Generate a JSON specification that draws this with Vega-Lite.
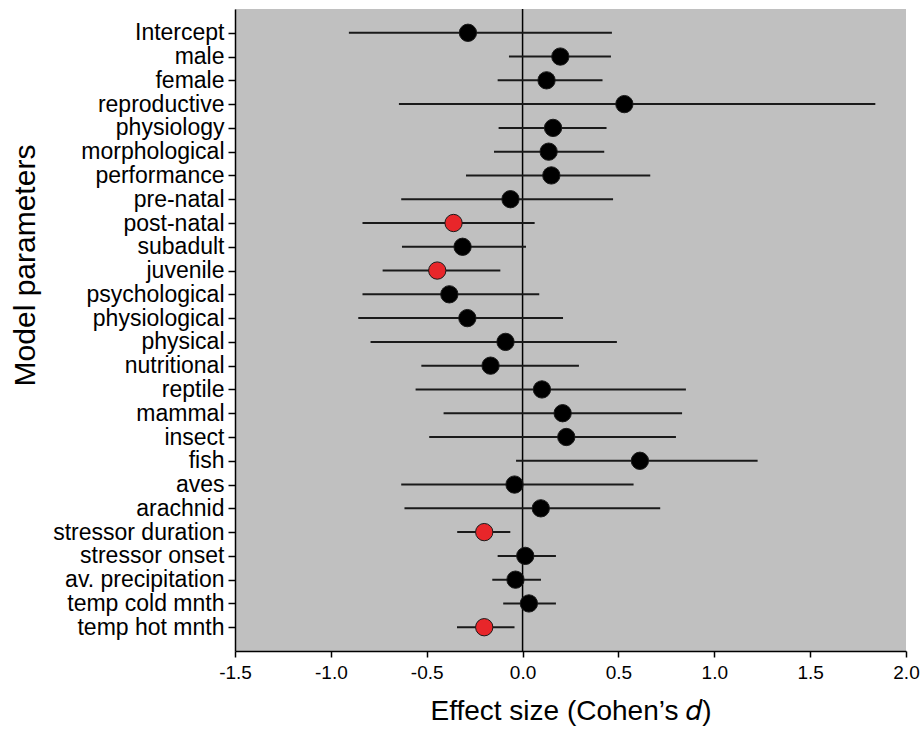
{
  "$schema": "https://vega.github.io/schema/vega-lite/v6.json",
  "autosize": {"type": "none"},
  "width": 671,
  "height": 642,
  "padding": {"left": 235, "top": 9, "right": 14, "bottom": 86},
  "background": "white",
  "config": {
    "view": {"stroke": null, "fill": "#c0c0c0"},
    "font": "Liberation Sans",
    "axis": {"grid": false, "domainColor": "black", "tickColor": "black", "labelColor": "black", "titleColor": "black", "domainWidth": 1.5, "tickWidth": 1.5, "labelFont": "Liberation Sans", "titleFont": "Liberation Sans", "titleFontWeight": "normal"}
  },
  "data": {
    "values": [
      {"param": "Intercept", "d": -0.285, "lo": -0.906, "hi": 0.466, "group": "ns"},
      {"param": "male", "d": 0.197, "lo": -0.071, "hi": 0.461, "group": "ns"},
      {"param": "female", "d": 0.125, "lo": -0.130, "hi": 0.417, "group": "ns"},
      {"param": "reproductive", "d": 0.531, "lo": -0.645, "hi": 1.840, "group": "ns"},
      {"param": "physiology", "d": 0.159, "lo": -0.125, "hi": 0.438, "group": "ns"},
      {"param": "morphological", "d": 0.136, "lo": -0.149, "hi": 0.426, "group": "ns"},
      {"param": "performance", "d": 0.150, "lo": -0.295, "hi": 0.666, "group": "ns"},
      {"param": "pre-natal", "d": -0.063, "lo": -0.633, "hi": 0.472, "group": "ns"},
      {"param": "post-natal", "d": -0.360, "lo": -0.835, "hi": 0.063, "group": "sig"},
      {"param": "subadult", "d": -0.313, "lo": -0.629, "hi": 0.018, "group": "ns"},
      {"param": "juvenile", "d": -0.445, "lo": -0.730, "hi": -0.116, "group": "sig"},
      {"param": "psychological", "d": -0.382, "lo": -0.835, "hi": 0.087, "group": "ns"},
      {"param": "physiological", "d": -0.288, "lo": -0.857, "hi": 0.211, "group": "ns"},
      {"param": "physical", "d": -0.089, "lo": -0.793, "hi": 0.492, "group": "ns"},
      {"param": "nutritional", "d": -0.167, "lo": -0.528, "hi": 0.294, "group": "ns"},
      {"param": "reptile", "d": 0.101, "lo": -0.558, "hi": 0.852, "group": "ns"},
      {"param": "mammal", "d": 0.209, "lo": -0.412, "hi": 0.832, "group": "ns"},
      {"param": "insect", "d": 0.228, "lo": -0.487, "hi": 0.800, "group": "ns"},
      {"param": "fish", "d": 0.612, "lo": -0.034, "hi": 1.226, "group": "ns"},
      {"param": "aves", "d": -0.042, "lo": -0.633, "hi": 0.579, "group": "ns"},
      {"param": "arachnid", "d": 0.095, "lo": -0.616, "hi": 0.718, "group": "ns"},
      {"param": "stressor duration", "d": -0.200, "lo": -0.341, "hi": -0.064, "group": "sig"},
      {"param": "stressor onset", "d": 0.014, "lo": -0.130, "hi": 0.174, "group": "ns"},
      {"param": "av. precipitation", "d": -0.037, "lo": -0.158, "hi": 0.096, "group": "ns"},
      {"param": "temp cold mnth", "d": 0.033, "lo": -0.101, "hi": 0.174, "group": "ns"},
      {"param": "temp hot mnth", "d": -0.200, "lo": -0.342, "hi": -0.042, "group": "sig"}
    ]
  },
  "encoding": {
    "y": {
      "field": "param", "type": "nominal", "sort": null,
      "scale": {"type": "point", "padding": 1},
      "axis": {
        "title": "Model parameters", "titleFontSize": 30, "titleAngle": -90,
        "titleX": -225, "titleY": 256, "titleBaseline": "top", "titleAlign": "center",
        "labelFontSize": 23, "tickSize": 7, "labelPadding": 4
      }
    }
  },
  "layer": [
    {
      "mark": {"type": "rule", "color": "black", "strokeWidth": 1.5},
      "data": {"values": [{"zero": 0}]},
      "encoding": {"x": {"field": "zero", "type": "quantitative"}, "y": null}
    },
    {
      "mark": {"type": "rule", "color": "#1a1a1a", "strokeWidth": 2},
      "encoding": {
        "x": {"field": "lo", "type": "quantitative"},
        "x2": {"field": "hi"}
      }
    },
    {
      "mark": {"type": "point", "shape": "circle", "filled": true, "size": 300, "stroke": "#1a1a1a", "strokeWidth": 1, "opacity": 1},
      "encoding": {
        "x": {
          "field": "d", "type": "quantitative",
          "scale": {"domain": [-1.5, 2.0], "nice": false, "zero": false},
          "axis": {
            "title": "Effect size (Cohen’s 𝑑)", "titleFontSize": 28,
            "titleBaseline": "alphabetic", "titleY": 68,
            "values": [-1.5, -1.0, -0.5, 0.0, 0.5, 1.0, 1.5, 2.0],
            "labelExpr": "(datum.value < 0 ? '-' : '') + format(abs(datum.value), '.1f')",
            "labelFontSize": 19, "tickSize": 6, "labelPadding": 6, "labelFlush": false
          }
        },
        "fill": {
          "field": "group", "type": "nominal",
          "scale": {"domain": ["ns", "sig"], "range": ["#000000", "#e8262a"]},
          "legend": null
        }
      }
    }
  ]
}
